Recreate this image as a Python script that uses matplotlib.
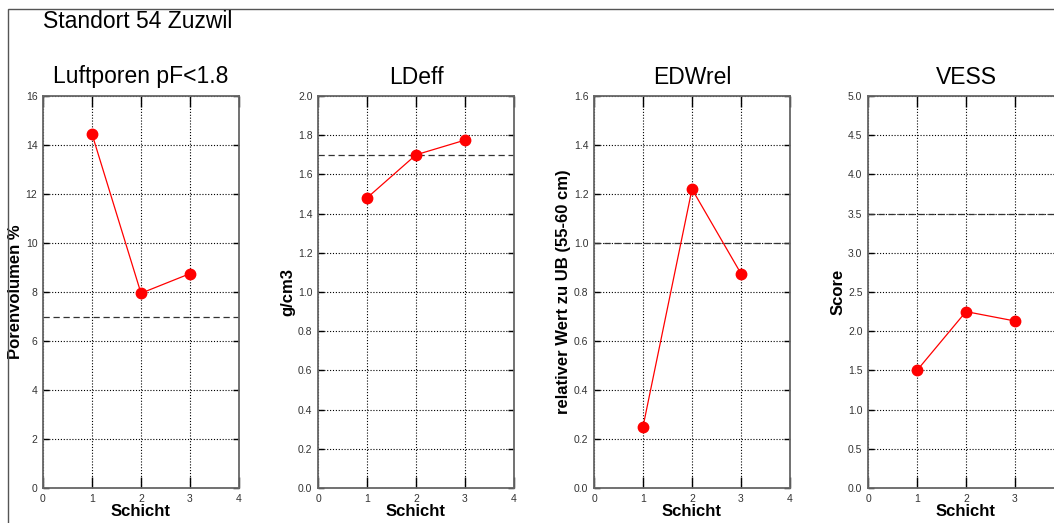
import matplotlib
matplotlib.use("Agg")
import matplotlib.pyplot as plt
from matplotlib.patches import Rectangle

plt.rcParams["font.family"] = ["Liberation Sans", "DejaVu Sans"]

# Messwerte pro Schicht
schicht = [1, 2, 3]
luftporen = [14.45, 7.95, 8.75]
ldeff = [1.48, 1.70, 1.775]
edwrel = [0.25, 1.22, 0.875]
vess = [1.5, 2.25, 2.13]

titles = ["Luftporen pF<1.8", "LDeff", "EDWrel", "VESS"]
ylabels = ["Porenvolumen %", "g/cm3", "relativer Wert zu UB (55-60 cm)", "Score"]
ymax = [16, 2.0, 1.6, 5.0]
ystep = [2, 0.2, 0.2, 0.5]
yfmt = ["{:.0f}", "{:.1f}", "{:.1f}", "{:.1f}"]
grenzwerte = [7, 1.7, 1.0, 3.5]
series = [luftporen, ldeff, edwrel, vess]

W, H = 1054, 523
fig = plt.figure(figsize=(W / 100, H / 100), dpi=100)
fig.patch.set_facecolor("white")

# Rahmen um die Grafik
fig.patches.append(Rectangle((8 / W, -0.2), 1.5, 1.2 - 9 / H,
                             transform=fig.transFigure, fill=False,
                             edgecolor="#555555", linewidth=1.0))
fig.text(43 / W, 1 - 22 / H, "Standort 54 Zuzwil", fontsize=16.5, va="center")

lefts = [43, 318, 594, 868]
for i in range(4):
    ax = fig.add_axes([lefts[i] / W, 35 / H, 196 / W, 392 / H])
    n = int(round(ymax[i] / ystep[i]))
    yt = [k * ystep[i] for k in range(n + 1)]
    ax.set_xlim(0, 4)
    ax.set_ylim(0, ymax[i])
    ax.set_xticks([0, 1, 2, 3, 4])
    ax.set_yticks(yt)
    ax.set_yticklabels([yfmt[i].format(v) for v in yt])
    ax.grid(True, linestyle=(0, (1, 1.6)), color="black", linewidth=0.8)
    ax.axhline(grenzwerte[i], color="#333333", linestyle=(0, (5, 3)), linewidth=0.9)
    ax.plot(schicht, series[i], color="red", linewidth=0.9, marker="o",
            markersize=7.5, markerfacecolor="red", markeredgecolor="red")
    for s in ax.spines.values():
        s.set_color("#666666")
        s.set_linewidth(1.3)
    ax.tick_params(axis="x", direction="in", length=8, width=1, color="black",
                   top=True, labelsize=7.5, labelcolor="#333333", pad=4)
    ax.tick_params(axis="y", direction="in", length=4, width=1, color="black",
                   right=True, labelsize=7.5, labelcolor="#333333", pad=4)
    ax.set_title(titles[i], fontsize=16.5, pad=9)
    ax.set_xlabel("Schicht", fontsize=12, fontweight="bold", labelpad=0)
    ax.set_ylabel(ylabels[i], fontsize=12, fontweight="bold", labelpad=2)

fig.savefig("out.png", dpi=100)
